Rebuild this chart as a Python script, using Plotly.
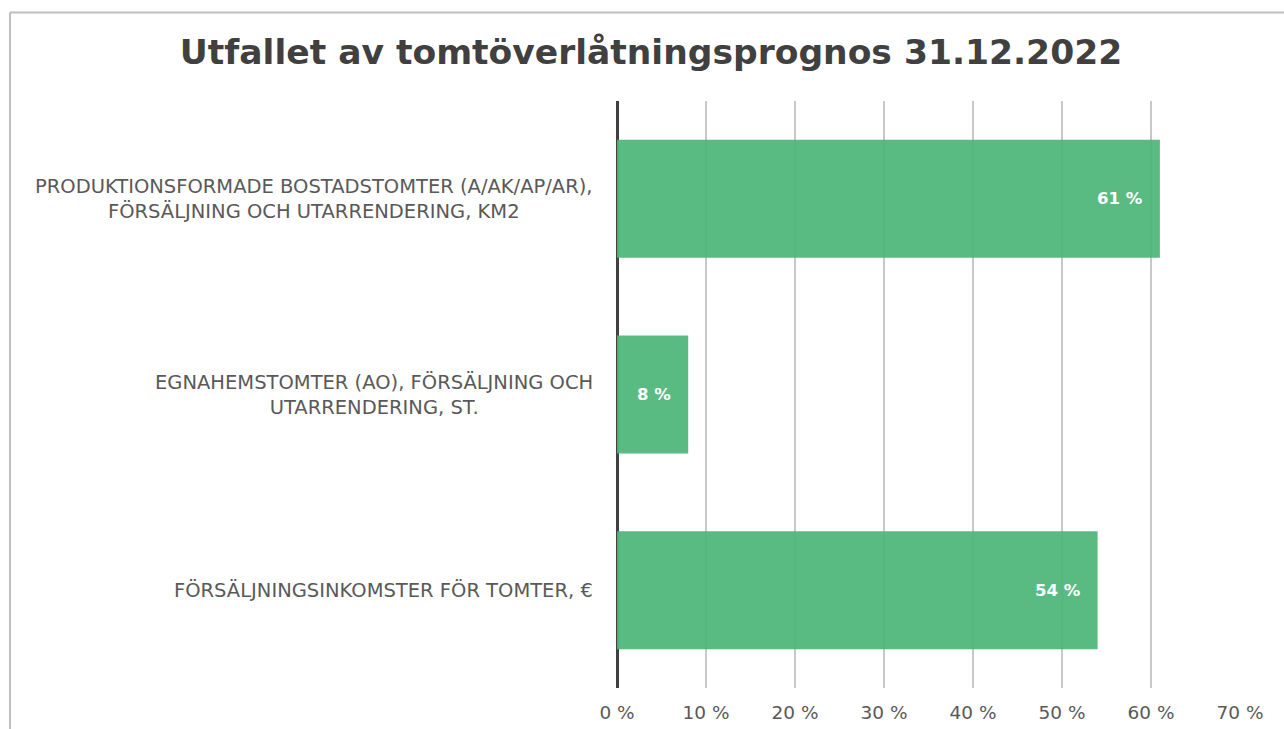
import plotly.graph_objects as go

# Outcome of the plot-transfer forecast, share achieved (%)
categories = [
    "PRODUKTIONSFORMADE BOSTADSTOMTER (A/AK/AP/AR),<br>FÖRSÄLJNING OCH UTARRENDERING, KM2",
    "EGNAHEMSTOMTER (AO), FÖRSÄLJNING OCH<br>UTARRENDERING, ST.",
    "FÖRSÄLJNINGSINKOMSTER FÖR TOMTER, €",
]
values = [61, 8, 54]
tick_values = [0, 10, 20, 30, 40, 50, 60, 70]
tick_labels = ["0 %", "10 %", "20 %", "30 %", "40 %", "50 %", "60 %", "70 %"]
title_text = "Utfallet av tomtöverlåtningsprognos 31.12.2022"

W, H = 1284, 729
L, R, T, B = 617, 44, 101, 41
pw, ph = W - L - R, H - T - B
FONT = "DejaVu Sans"


def px_x(px):
    return (px - L) / pw


def px_y(py):
    return (H - B - py) / ph


fig = go.Figure(
    go.Bar(
        x=values,
        y=categories,
        orientation="h",
        marker=dict(color="rgba(76,182,120,0.93)", line=dict(width=0)),
        hoverinfo="skip",
    )
)

# value labels inside the bar ends
for cat, v in zip(categories, values):
    fig.add_annotation(
        x=v, y=cat, xref="x", yref="y",
        text=f"<b>{v} %</b>", showarrow=False,
        xanchor="right", yanchor="middle", xshift=-15,
        font=dict(family=FONT, size=16.5, color="white"),
    )

# category labels, centred lines
for cat in categories:
    fig.add_annotation(
        x=px_x(595), y=cat, xref="paper", yref="y",
        text=cat, showarrow=False, align="center",
        xanchor="right", yanchor="middle",
        font=dict(family=FONT, size=19.5, color="#595959"),
    )

# chart frame (top and left edges)
fig.add_shape(type="line", xref="paper", yref="paper",
              x0=px_x(10), x1=px_x(1290), y0=px_y(12.5), y1=px_y(12.5),
              line=dict(color="#BFBFBF", width=2))
fig.add_shape(type="line", xref="paper", yref="paper",
              x0=px_x(10), x1=px_x(10), y0=px_y(12.5), y1=px_y(740),
              line=dict(color="#BFBFBF", width=2))

fig.update_layout(
    width=W, height=H,
    margin=dict(l=L, r=R, t=T, b=B),
    paper_bgcolor="white", plot_bgcolor="white",
    bargap=0.397,
    showlegend=False,
    title=dict(
        text=f"<b>{title_text}</b>",
        x=651 / W, xanchor="center",
        y=1 - 52 / H, yanchor="middle", yref="container",
        font=dict(family=FONT, size=34.5, color="#404040"),
    ),
    xaxis=dict(
        range=[0, 70], tickvals=tick_values, ticktext=tick_labels,
        showgrid=True, gridcolor="#C8C8C8", gridwidth=1.5,
        zeroline=True, zerolinecolor="#404040", zerolinewidth=3,
        showline=False, ticks="", ticklabelstandoff=11,
        tickfont=dict(family=FONT, size=18.5, color="#595959"),
        automargin=False, fixedrange=True,
    ),
    yaxis=dict(
        autorange="reversed", showticklabels=False, showgrid=False,
        zeroline=False, ticks="", automargin=False, fixedrange=True,
    ),
)

fig.write_html("out.html")
